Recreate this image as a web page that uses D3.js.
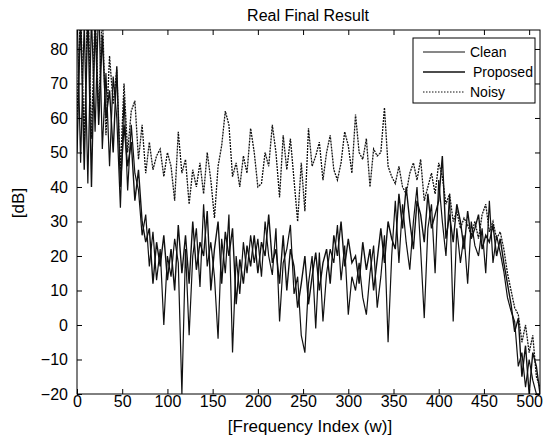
<!DOCTYPE html>
<html>
<head>
<meta charset="utf-8">
<script src="https://d3js.org/d3.v7.min.js"></script>
<style>
    body { margin: 0; background: #fff; }
    svg { font-family: "Liberation Sans", Arial, sans-serif; }
</style>
</head>
<body>
<svg width="550" height="439"></svg>
<script>

// frequency index 0..512, sampled every 4 bins
const freqIndex = d3.range(0, 513, 4);

const noisy = [
    60, 92, 52, 95, 54, 90, 62, 92, 55, 78, 64, 74, 45, 70, 50, 62,
    65, 48, 58, 44, 53, 45, 49, 51, 43, 50, 46, 36, 56, 44, 48, 35,
    45, 40, 47, 38, 50, 42, 31, 46, 52, 62, 58, 43, 47, 40, 49, 44,
    57, 50, 40, 41, 50, 46, 58, 50, 37, 55, 45, 54, 42, 30, 47, 33,
    57, 46, 49, 53, 42, 50, 55, 45, 42, 47, 56, 52, 44, 61, 50, 48,
    54, 40, 51, 49, 50, 63, 46, 43, 41, 46, 40, 38, 44, 47, 42, 48,
    36, 40, 44, 38, 47, 43, 35, 38, 30, 33, 28, 31, 29, 26, 30, 25,
    32, 35, 27, 30, 25, 27, 22, 15, 10, 5, 3, -5, 0, -8, -3, -15,
    -18
];

const clean = [
    92, 47, 88, 41, 90, 56, 94, 51, 73, 46, 72, 60, 34, 66, 39, 58,
    44, 39, 26, 32, 17, 27, 13, 22, 0, 20, 14, 25, 18, -20, 22, -3,
    20, 28, 11, 35, 17, 24, 14, -4, 25, 15, 32, -8, 20, 9, 24, 15,
    26, 18, 25, 14, 30, 20, 14.5, 28, 1, 18, 22, 29, 9, 14, -3, -8,
    12, 20, -1, 21, 1, 15, 22, 18, 29, 13, 23, 3, 14, 10, 18, 8,
    3, 15, 23, 5, 14, 26, -5, 20, 36, 18, 35, 24, 16, 30, 40, 22,
    2, 28, 35, 15, 42, 30, 20, 38, 1, 28, 18, 26, 12, 30, 23, 20,
    28, 15, 36, 18, 26, 21, 15.5, 8, 4, 1, -12, -8, -18, -10, -16, -20,
    -20
];

const proposed = [
    50, 90, 45, 92, 40, 88, 58, 84, 60, 68, 50, 75, 40, 58, 46, 53,
    36, 45, 30, 24, 28, 12, 24, 17, 26, 13, 22, 10, 29, 15, 26, 12,
    30, 16, 24, 20, 33, 10, 22, 30, 12, 27, 20, 28, 6, 19, 12, 23,
    17, 26, 15, 24, 20, 32, 18, 22, 12, 26, 10, 22, 17, 5, 12, 20,
    6, 14, 21, 10, 18, 22, 12, 26, 20, 30, 17, 25, 18, 20, 12, 24,
    16, 22, 10, 19, 28, 18, 30, 25, 22, 38, 28, 40, 30, 22, 36, 32,
    24, 38, 28, 32, 36, 49, 25, 32, 24, 35, 30, 22, 33, 25, 28, 32,
    22, 26, 24, 29, 20, 25, 18, 12, 6, -2, 2, -15, -6, -20, -8, -12,
    -20
];

const xTicks = [0, 50, 100, 150, 200, 250, 300, 350, 400, 450, 500];
const yTicks = [-20, -10, 0, 10, 20, 30, 40, 50, 60, 70, 80];
const legendLabels = ["Clean", "Proposed", "Noisy"];

const margin = { left: 77, right: 10, top: 30, bottom: 45 };
const width = 550, height = 439;

const svg = d3.select("svg");

const xScale = d3.scaleLinear()
    .domain([0, 512])
    .range([margin.left, width - margin.right]);

const yScale = d3.scaleLinear()
    .domain([-20, 85.5])
    .range([height - margin.bottom, margin.top]);

svg.append("clipPath")
    .attr("id", "plot-clip")
    .append("rect")
    .attr("x", margin.left)
    .attr("y", margin.top)
    .attr("width", xScale(512) - margin.left)
    .attr("height", yScale(-20) - margin.top);

const line = (values) => d3.line()
    .x((d, i) => xScale(freqIndex[i]))
    .y((d) => yScale(d))(values);

const series = [
    { name: "Noisy", values: noisy, width: 1.3, dash: "2,1" },
    { name: "Proposed", values: proposed, width: 1.4, dash: null },
    { name: "Clean", values: clean, width: 1.2, dash: null }
];

svg.append("g")
    .attr("clip-path", "url(#plot-clip)")
    .selectAll("path")
    .data(series)
    .enter()
    .append("path")
    .attr("d", (d) => line(d.values))
    .attr("fill", "none")
    .attr("stroke", "#111")
    .attr("stroke-width", (d) => d.width)
    .attr("stroke-dasharray", (d) => d.dash);

// axes: MATLAB style box with inward ticks on all four sides
const tickLen = 5;
const axisStyle = (g) => {
    g.select(".domain").remove();
    g.selectAll("line").attr("stroke", "#000");
    g.selectAll("text")
        .attr("fill", "#000")
        .style("font-size", "16px");
};

svg.append("g")
    .attr("transform", `translate(0,${yScale(-20)})`)
    .call(d3.axisBottom(xScale).tickValues(xTicks).tickSize(-tickLen).tickPadding(2))
    .call(axisStyle);

svg.append("g")
    .attr("transform", `translate(0,${margin.top})`)
    .call(d3.axisTop(xScale).tickValues(xTicks).tickSize(-tickLen).tickFormat(""))
    .call(axisStyle);

svg.append("g")
    .attr("transform", `translate(${margin.left},0)`)
    .call(d3.axisLeft(yScale).tickValues(yTicks).tickSize(-tickLen).tickPadding(9))
    .call(axisStyle);

svg.append("g")
    .attr("transform", `translate(${xScale(512)},0)`)
    .call(d3.axisRight(yScale).tickValues(yTicks).tickSize(-tickLen).tickFormat(""))
    .call(axisStyle);

svg.append("rect")
    .attr("x", margin.left)
    .attr("y", margin.top)
    .attr("width", xScale(512) - margin.left)
    .attr("height", yScale(-20) - margin.top)
    .attr("fill", "none")
    .attr("stroke", "#000")
    .attr("stroke-width", 1);

svg.append("text")
    .attr("x", 308)
    .attr("y", 21)
    .attr("text-anchor", "middle")
    .style("font-size", "16px")
    .text("Real Final Result");

svg.append("text")
    .attr("x", 310)
    .attr("y", 432)
    .attr("text-anchor", "middle")
    .style("font-size", "17px")
    .text("[Frequency Index (w)]");

svg.append("text")
    .attr("transform", "translate(24,203) rotate(-90)")
    .attr("text-anchor", "middle")
    .style("font-size", "17px")
    .text("[dB]");

// legend
const legend = svg.append("g");
legend.append("rect")
    .attr("x", 413)
    .attr("y", 38)
    .attr("width", 122)
    .attr("height", 65)
    .attr("fill", "#fff")
    .attr("stroke", "#000");

const legendDash = [null, null, "1.5,1.5"];
const legendRows = legend.selectAll(".row")
    .data(legendLabels)
    .enter()
    .append("g")
    .attr("class", "row")
    .attr("transform", (d, i) => `translate(0,${52 + i * 20})`);

legendRows.append("line")
    .attr("x1", 423)
    .attr("x2", 465)
    .attr("stroke", "#111")
    .attr("stroke-width", (d, i) => (i == 1 ? 1.3 : 1))
    .attr("stroke-dasharray", (d, i) => legendDash[i]);

legendRows.append("text")
    .attr("x", (d, i) => (i == 1 ? 473 : 470))
    .attr("y", 5)
    .style("font-size", "14px")
    .text((d) => d);

</script>
</body>
</html>
